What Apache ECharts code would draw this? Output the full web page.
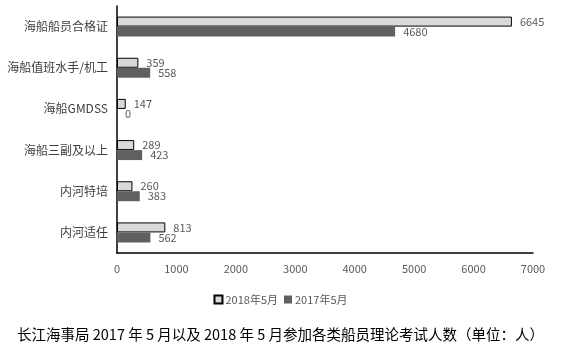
<!DOCTYPE html>
<html><head><meta charset="utf-8">
<script src="https://cdn.jsdelivr.net/npm/echarts@6/dist/echarts.min.js"></script>
<style>html,body{margin:0;padding:0;background:#fff}#c{width:561px;height:355px}</style>
</head><body><div id="c"></div>
<script>
const categories = ['海船船员合格证','海船值班水手/机工','海船GMDSS','海船三副及以上','内河特培','内河适任'];
const seriesNames = ['2018年5月','2017年5月'];
const values2018 = [6645, 359, 147, 289, 260, 813];
const values2017 = [4680, 558, 0, 423, 383, 562];
const xTicks = [0, 1000, 2000, 3000, 4000, 5000, 6000, 7000];
const caption = '长江海事局 2017 年 5 月以及 2018 年 5 月参加各类船员理论考试人数（单位：人）';

const chart = echarts.init(document.getElementById('c'));
const font = '"Noto Sans CJK SC", "Noto Sans", sans-serif';
chart.setOption({
  animation: false,
  textStyle: { fontFamily: font },
  grid: { left: 117, right: 28, top: 6, bottom: 102, containLabel: false },
  title: {
    text: caption, left: 'center', top: 322,
    textStyle: { fontSize: 14.5, fontWeight: 'normal', color: '#000', fontFamily: font }
  },
  legend: {
    data: seriesNames.map(n => ({ name: n, icon: 'rect' })),
    left: 'center', top: 289, itemWidth: 8, itemHeight: 8, itemGap: 6,
    textStyle: { fontSize: 11, color: '#595959', fontFamily: font, padding: [0, 0, 0, -2] }
  },
  xAxis: {
    type: 'value', min: 0, max: 7000, interval: 1000,
    axisLine: { show: true, lineStyle: { color: '#000', width: 1.5 } },
    axisTick: { show: false }, splitLine: { show: false },
    axisLabel: { color: '#595959', fontSize: 11, margin: 10,
      formatter: v => xTicks.includes(v) ? String(v) : '' }
  },
  yAxis: {
    type: 'category', data: categories, inverse: true,
    axisLine: { show: true, lineStyle: { color: '#000', width: 1.5 } },
    axisTick: { show: false },
    axisLabel: { color: '#404040', fontSize: 12, margin: 9 }
  },
  series: [
    { name: seriesNames[0], type: 'bar', data: values2018, barWidth: 10, barGap: '0%',
      itemStyle: { color: '#d9d9d9', borderColor: '#000', borderWidth: 1 },
      label: { show: true, position: 'right', distance: 8, color: '#595959', fontSize: 11 } },
    { name: seriesNames[1], type: 'bar', data: values2017, barWidth: 10, barGap: '0%',
      itemStyle: { color: '#606060' },
      label: { show: true, position: 'right', distance: 8, color: '#595959', fontSize: 11 } }
  ]
});
</script></body></html>
